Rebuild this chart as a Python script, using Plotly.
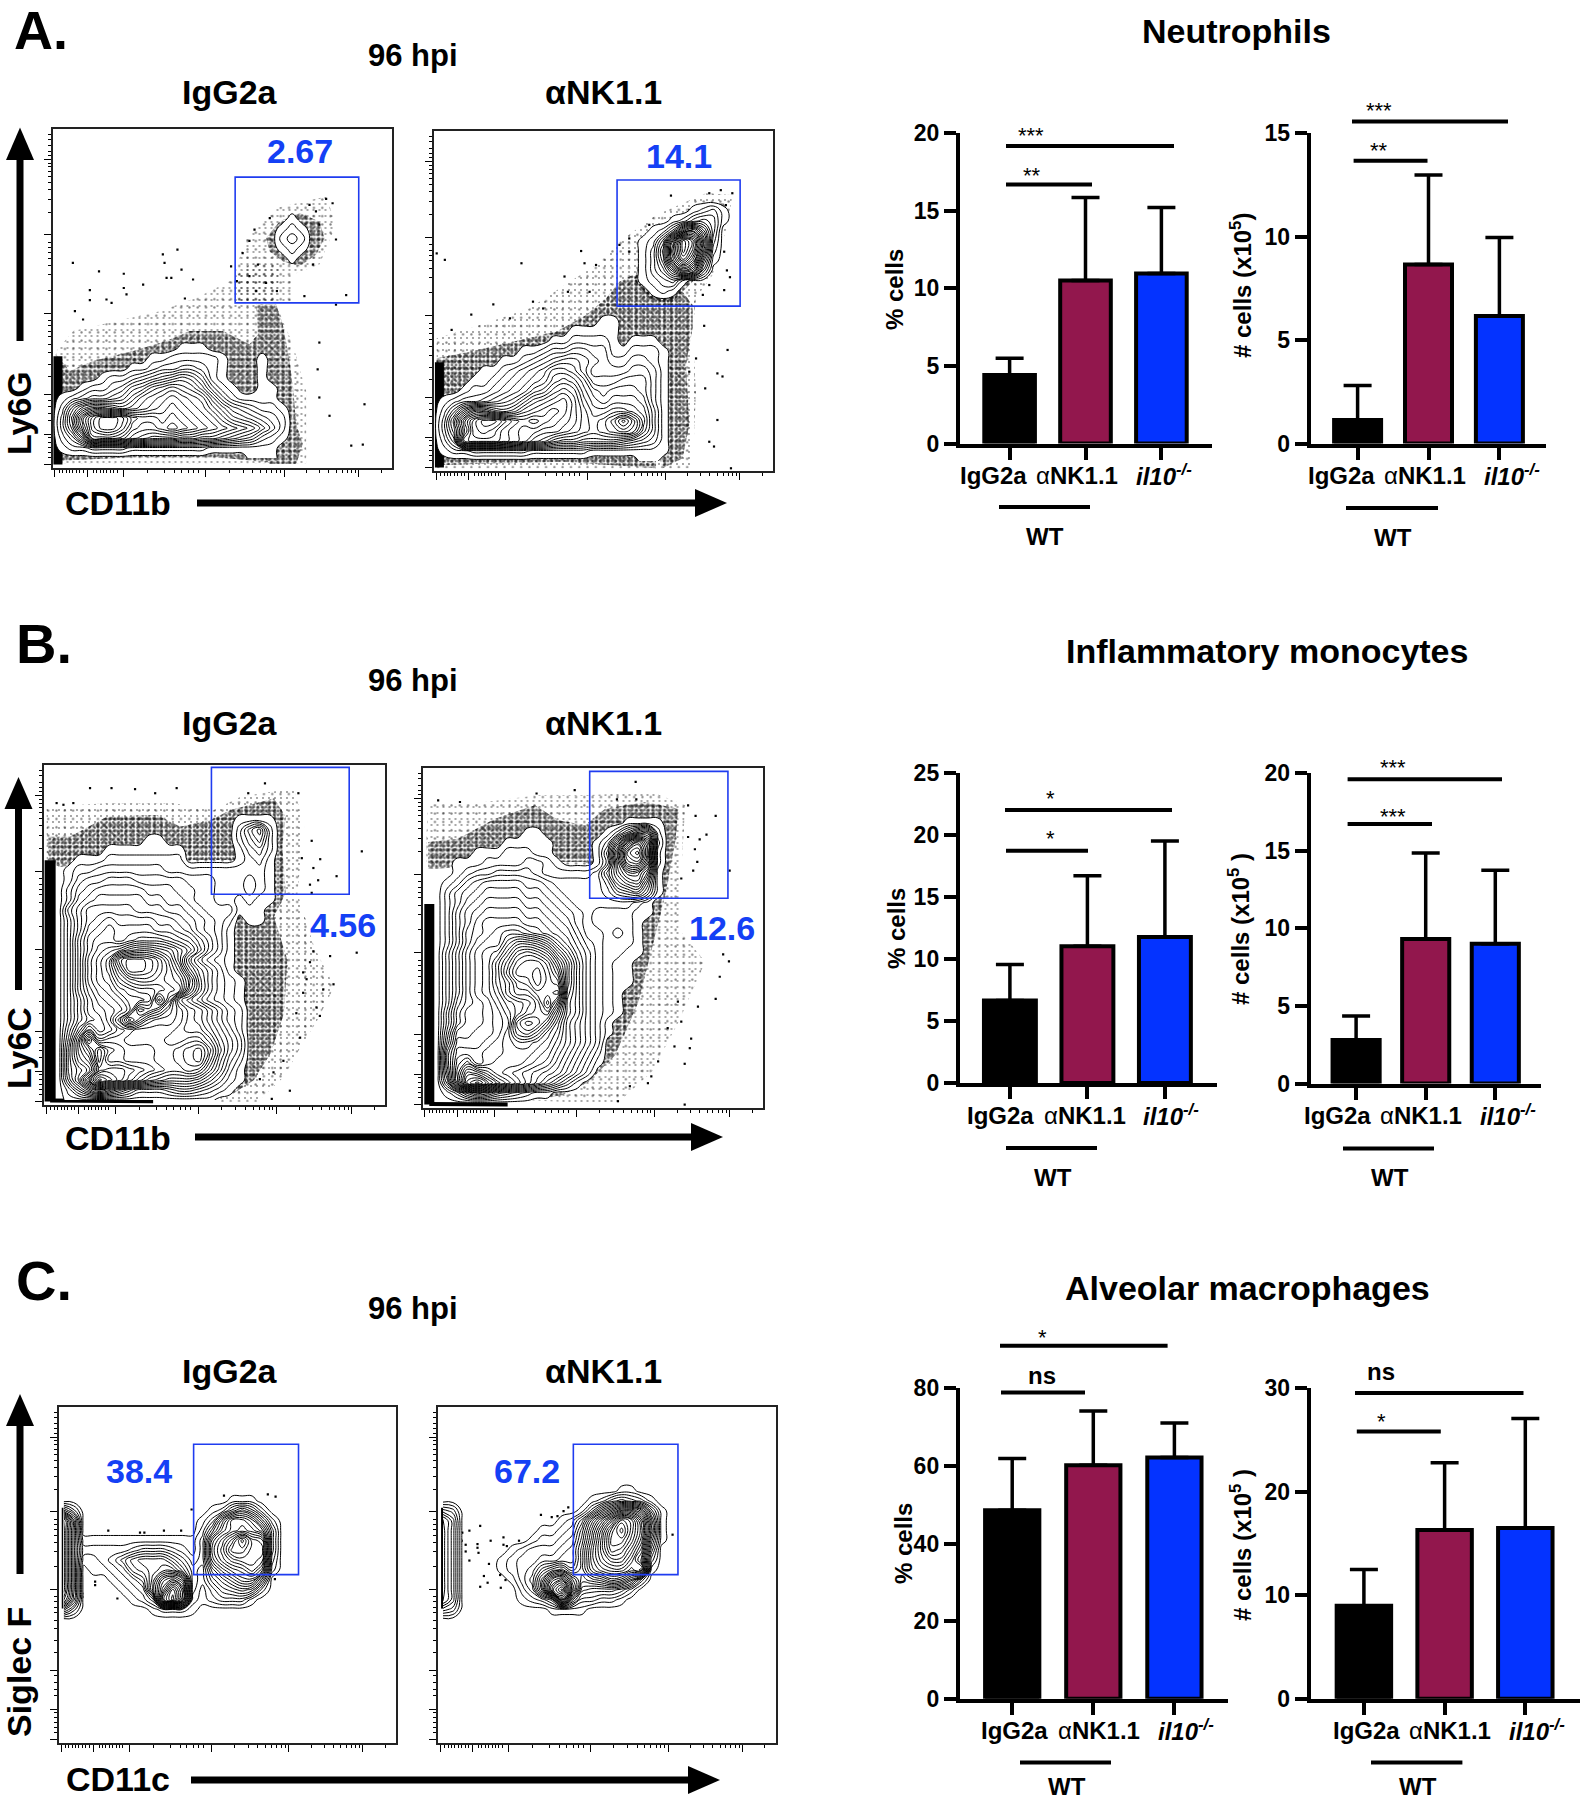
import plotly.graph_objects as go

W, H = 1580, 1800
FONT = "Liberation Sans"
BLUE_TXT = "#1440f5"
GATE_COL = "#1f3cf0"
BAR_COLORS = ["#000000", "#92174d", "#0433ff"]
CATEGORIES = ["IgG2a", "αNK1.1", "il10-/-"]
CAT_TEXT = ["<b>IgG2a</b>", "α<b>NK1.1</b>", "<b><i>il10<sup>-/-</sup></i></b>"]

# ---------- bar chart values (mean, upper whisker) ----------
A1_MEAN = [4.42, 10.5, 10.96];  A1_UP = [5.5, 15.85, 15.2]
A2_MEAN = [1.14, 8.65, 6.16];   A2_UP = [2.8, 12.97, 9.95]
B1_MEAN = [6.64, 11.02, 11.77]; B1_UP = [9.54, 16.7, 19.5]
B2_MEAN = [2.81, 9.3, 9.0];     B2_UP = [4.35, 14.85, 13.73]
C1_MEAN = [48.6, 60.2, 62.2];   C1_UP = [61.9, 74.2, 71.1]
C2_MEAN = [8.99, 16.3, 16.5];   C2_UP = [12.5, 22.8, 27.1]

# ---------- flow plot axis ticks (percent of frame) ----------
FLOW_Y_MAJOR = [9.1, 31.2, 54.3, 78.4, 90, 99]
FLOW_Y_MINOR = [1.5, 3, 5, 6.5, 7.8, 10.1, 11.2, 12.5, 14, 15.8, 17.9, 20.7, 24.6, 33.5, 35, 36.5, 38.2, 40.3, 43, 47.5,
                56.5, 58, 59.6, 61.3, 63.5, 66, 69.5, 73, 80, 82, 84, 86, 91, 92.5, 94, 95.5, 97]
FLOW_X_MAJOR = [0.7, 10.2, 21, 45.2, 68.2, 90.2]
FLOW_X_MINOR = [2, 3, 4, 5, 6, 7, 8, 9, 12, 13, 14, 15, 16, 17, 18, 19, 28, 33, 36, 38, 40, 41.5, 43,
                52.1, 56.2, 59, 61.3, 63.1, 64.6, 66, 67.1, 74.8, 78.7, 81.4, 83.6, 85.3, 86.8, 88.1, 89.2, 96.8]

# ---------- contour density: (row, first column, base-36 levels) on a 34x34 grid ----------
A1_GRID = [(9,24,"1"),(10,23,"121"),(11,23,"232"),(12,23,"121"),(13,24,"1"),
 (22,13,"111"),(23,10,"11222221"),(23,21,"1"),(24,8,"1123344321"),(24,21,"1"),
 (25,5,"1223456787521"),(25,21,"1"),(26,3,"12234679aba97421"),(26,21,"11"),
 (27,1,"12344568abcdcba7421111"),(28,1,"269bba9abcdedcb97543221"),(29,1,"38eikkjgffefedcb9765432"),
 (30,1,"37dikkifeefgfedcba98642"),(31,1,"248gggfdcbbbaa998765321"),(32,1,"1223333222222221111111"),(33,20,"111")]
A2_GRID = [(8,26,"1231"),(9,24,"124541"),(10,22,"125be94"),(11,21,"126fnkc3"),(12,21,"138hnjb2"),
 (13,21,"137fkg71"),(14,21,"1359db4"),(15,21,"12341"),(16,22,"121"),
 (19,17,"11"),(20,14,"11111"),(21,12,"1122221"),(21,20,"111"),(22,9,"112334433112221"),
 (23,7,"11234566543223321"),(24,5,"1123456887533334431"),(25,4,"112345679a9744455531"),
 (26,3,"122345689bcb865666531"),(27,1,"123345679bcdec976777631"),(28,1,"259cca9acdefeca88998741"),
 (29,1,"38eikkigfgfedca9acfc841"),(30,1,"37dijigfeeddcba9abcb741"),(31,1,"25ghhhgfecb988777765431"),
 (32,1,"12233333322222211111111"),(33,21,"11")]
B1_GRID = [(5,19,"1111"),(6,19,"2572"),(7,10,"11"),(7,19,"2462"),(8,6,"11111111"),(8,19,"1342"),
 (9,3,"11122222222"),(9,19,"1231"),(10,2,"122333333322222222221"),(11,2,"134455544444333222321"),
 (12,2,"245666665554433222321"),(13,2,"256777776655433221211"),(14,2,"46888887776654333111"),
 (15,2,"3689a999988765432"),(15,20,"11"),(16,2,"369abaaaa99875431"),(17,2,"37abbabcccba97531"),
 (18,2,"37acdeghhgfdb8531"),(19,2,"37bdflnnmkhd85321"),(20,2,"37bdfjnnmkifa7531"),(21,2,"37bdehjkkjihd85321"),
 (22,2,"37acdfghhijic85321"),(23,2,"369bcdffgmha864321"),(24,2,"369abcekjheca97532"),(25,2,"3689bfkheddca97532"),
 (26,2,"48c9acdccccbaa8642"),(27,2,"5bicddccccbbcca753"),(28,2,"6beifedddccdefc853"),(29,2,"6acieedddccdefb742"),
 (30,2,"68aghhgfedccdc9631"),(31,2,"59fljhfdba99986421"),(32,2,"258b9753334554321"),(33,2,"111111111111111")]
B2_GRID = [(5,20,"1111"),(6,10,"11"),(6,18,"1369a2"),(7,8,"11111"),(7,17,"139gkf3"),(8,5,"11122211"),(8,17,"15dlng2"),
 (9,3,"11122223321"),(9,17,"14cjke2"),(10,3,"1233444432222237beea1"),(11,2,"124566665543333359bc71"),
 (12,2,"2456777766543333467851"),(13,2,"246788887765433333321"),(14,2,"257899998876543222211"),
 (15,2,"2579aaaa998764322221"),(16,2,"2589abccba9875332321"),(17,2,"258abbeggfda86432221"),
 (18,2,"369bcdgjkjhda7532211"),(19,2,"369bcfilmmkgc853211"),(20,2,"369bcfjmmnlic853211"),(21,2,"369bcfhklnlkc853211"),
 (22,2,"369bcehjjllmb85321"),(23,2,"379abdfghjnia85321"),(24,2,"48aabcegijkfa85321"),(25,2,"48aabcdjlkhd97531"),
 (26,2,"5aabbceijhec97531"),(27,2,"6bbbcdeffedb9753"),(28,2,"8cccddeeedca8642"),(29,2,"8dfcdeeedcb97531"),
 (30,2,"7ejigedcba98642"),(31,2,"5dlnkhfdb97531"),(32,2,"13687543211")]
C1_GRID = [(9,17,"111"),(10,0,"63"),(10,15,"125752"),(11,0,"f8"),(11,14,"138cca62"),(12,0,"f8"),(12,14,"26acdca4"),
 (13,0,"f8"),(13,2,"111111111111"),(13,14,"3adgkgf4"),(14,0,"f8"),(14,2,"222223444321"),(14,14,"3beiigg4"),
 (15,0,"f8"),(15,2,"112357888642"),(15,14,"3adfggf3"),(16,0,"f8"),(16,2,"011236789963"),(16,14,"27acdfc2"),
 (17,0,"f8"),(17,5,"12359egd3"),(17,14,"2579bb6"),(18,0,"f8"),(18,6,"123agmh3"),(18,14,"1356762"),
 (19,0,"d7"),(19,7,"124jng2"),(19,14,"123331"),(20,0,"63"),(20,9,"12221")]
C2_GRID = [(8,18,"11"),(9,15,"1245431"),(10,0,"43"),(10,14,"148beeb51"),(11,0,"85"),(11,12,"125aeinlg81"),
 (12,0,"85"),(12,10,"11237chmplh91"),(13,0,"85"),(13,9,"122348dinnkg71"),(14,0,"85"),(14,7,"12333459eimlie5"),
 (15,0,"85"),(15,6,"123344559ehjjgc3"),(16,0,"85"),(16,6,"123479a79dfggeg1"),(17,0,"85"),(17,7,"135agic89acb83"),
 (18,0,"85"),(18,8,"24ajne655542"),(19,0,"85"),(19,8,"1235h733221"),(20,0,"43"),(20,11,"1111")]

# ---------- event clouds as outlines traced on the picture, in units of a third of a page pixel from the crop corner ----------
A1_DENSE = [[(18,690),(18,820),(300,900),(640,1000),(660,1020),(740,1020),(760,960),(740,900),(730,780),(715,680),(700,600),(680,540),(620,540),(625,630),(600,660),(520,620),(420,620),(350,650),(250,680),(130,710),(60,740)],
            [(650,340),(690,290),(750,265),(810,290),(825,340),(800,390),(750,425),(700,410),(660,380)],
            [(30,960),(200,975),(400,960),(640,990),(660,1015),(500,1000),(250,1000),(30,1010),(18,1000)]]
A1_SPARSE = [[(20,680),(70,620),(200,590),(330,560),(440,520),(540,470),(600,420),(690,420),(680,540),(730,660),(770,800),(770,1020),(20,1020)],
             [(590,340),(680,250),(830,215),(860,300),(810,420),(730,450),(730,535),(560,535),(560,430)]]
A1_SOLID = [(9,[(1.6,67),(1.6,99)])]
A2_DENSE = [[(20,700),(120,680),(250,650),(380,620),(470,570),(530,520),(570,470),(610,450),(650,480),(700,520),(745,480),(790,540),(790,610),(770,720),(780,900),(760,1000),(700,1030),(680,960),(300,900),(20,900)],
            [(615,465),(650,340),(720,285),(830,235),(885,235),(890,290),(830,430),(760,500),(720,540),(660,520)],
            [(30,965),(200,975),(470,960),(680,1000),(680,1030),(400,1010),(30,1020)]]
A2_SPARSE = [[(20,640),(120,610),(300,550),(420,470),(500,420),(570,350),(680,270),(830,205),(910,210),(895,300),(850,450),(800,520),(790,620),(800,800),(790,1030),(20,1030)]]
A2_SOLID = [(9,[(1.6,68),(1.6,99)])]
B1_DENSE = [[(25,310),(25,230),(90,230),(200,170),(350,165),(420,200),(510,180),(570,150),(700,115),(735,170),(725,260),(735,400),(700,470),(740,600),(730,760),(690,880),(640,960),(580,1000),(540,1010),(530,990),(600,850),(560,500),(700,300),(300,300),(60,320)]]
B1_SPARSE = [[(20,140),(200,130),(400,130),(520,150),(600,110),(760,85),(790,200),(770,400),(820,560),(880,680),(830,780),(780,860),(730,950),(650,1025),(540,1025),(540,990),(300,300),(20,300)]]
B1_SOLID = [(11,[(1.8,28),(1.8,99)]),(4,[(1.8,98.7),(32,98.9)])]
B2_DENSE = [[(30,320),(30,240),(120,230),(230,170),(350,130),(420,175),(500,190),(560,140),(680,120),(780,140),(770,240),(740,400),(690,600),(660,720),(590,880),(510,960),(430,1000),(330,1015),(320,990),(500,900),(600,700),(680,400),(500,300),(300,300),(60,320)]]
B2_SPARSE = [[(25,220),(30,120),(200,120),(360,100),(500,100),(700,90),(800,130),(790,300),(780,500),(860,600),(780,780),(700,930),(600,1020),(440,1020),(330,1015),(500,800),(300,300),(25,300)]]
B2_SOLID = [(10,[(2,40),(2,99)]),(4,[(2,98.8),(25,99)])]
C1_SOLID = [(2,[(1.2,30),(1.2,60)])]
C2_SOLID = [(2,[(1.2,30),(1.2,60)])]

# ---------- isolated events (percent of frame) ----------
A1_DOTS = [(6,39.5),(13.7,42),(11,47.5),(11,50.5),(21,42.7),(21,46.9),(32.5,37),(36.8,35.6),(33,39.5),(38,41.5),(35,43.9),(33.6,43.9),
 (41.4,44.4),(26.7,45.9),(21.8,48.8),(17.4,51.3),(15.9,50.3),(6.6,53.7),(9,56.2),(39,50),(78.6,63),(78.1,70.9),(91.9,81.2),(88,93.4),
 (91.4,93.1),(78.6,79.2),(81.6,84.6),(83.5,51.8),(86.5,49),(83.5,32.6),(80.6,20.6),(82.5,21.9),(75.7,22.4),(64,26.3),(59.5,29.7),(58,33),
 (56,36.6),(52.6,40.5),(58,43.4),(60.5,40),(54.3,44.9),(60,47.8),(62.9,45.4),(66.1,47.8),(74.2,49.3),(76.7,40),(78.6,28.2),(77.6,24.3)]
A2_DOTS = [(69.9,19),(85.6,35.5),(86.4,41),(87.3,43),(85.6,46.8),(79.7,57.3),(86.6,64.4),(83.6,71.3),(85.1,72.2),(83.6,85),(81.2,91.4),
 (82.6,92.8),(80,75.7),(75.3,70.8),(77.3,66.9),(3.2,37.9),(0.8,36),(25.8,38.9),(17.5,51),(11,54),(5.2,58.5),(22.4,55.1),(29.2,50.2),
 (32.2,52.2),(38.5,42.8),(39.5,47.3),(43.4,35.3),(44.4,38.9),(47.8,39.4),(45.9,47.3),(57.6,31.6),(84.6,17.4),(88,18.3),(86.1,21.8),
 (81.2,18.3),(75.3,23.2),(63.5,27.6),(57.6,35.5),(54.7,33.5),(81.2,45.3),(79.3,48.2),(87.6,99.2)]
B1_DOTS = [(13.5,6.8),(26.7,7.1),(32.6,8.3),(38.9,6.8),(19.8,6.8),(64.8,5.4),(59.9,8.3),(74.6,8.3),(78.5,22.3),(93.2,25.4),(75.6,27.4),
 (81,27.7),(79,30.3),(85.8,32.7),(80.4,33.9),(78,35.2),(78.5,37.6),(91.7,55.2),(83.9,56.2),(79,54.8),(84.9,64.5),(81.9,66),(79.9,71.3),
 (80.9,73.8),(76,61),(75.1,80.2),(70.2,87),(72.1,95.8),(66.8,98.2),(67.3,90.4),(63.3,92.4),(76,67),(77,63),(74,73),(78,58),(3.7,11.2),
 (5.7,11.7),(8.6,11.2)]
B2_DOTS = [(62.6,4.1),(57.1,9.2),(62.8,9.2),(78,11),(80.2,14.1),(86.1,14.1),(83.4,19.6),(81.4,21),(78,20.3),(80,23.9),(80.7,27.6),(79.5,30.2),
 (90.2,30.2),(76,32.5),(88.3,54.8),(90,56.9),(87.3,61.4),(86.1,67.9),(80.9,70.2),(75,68.7),(78.9,79.6),(78.5,82.4),(77,87),(74,81.9),
 (67.2,90.7),(66.2,92.7),(60.9,93.6),(57.4,98),(44.7,6.5),(33.5,7.5),(11,10),(4.6,9.5),(77,99),(69.2,86.3),(72,76.5),(76,74.6)]
C1_DOTS = [(49,26.4),(62,26),(64.3,26.7),(39.4,30.5),(14.7,36.8),(24.1,37.4),(25.4,37.4),(31.2,36.8),(36.3,36.8),(10.8,52),(10.8,53),(7,55.5),
 (7,56.5),(17.4,57),(64.1,51.2)]
C2_DOTS = [(7.2,37.4),(9.3,36.8),(12.5,35.4),(7,39.8),(8.2,41),(11.7,40.8),(11.7,41.9),(8.2,43),(12,43.4),(9.3,45.7),(15.6,39.8),(19.4,38.8),
 (19.4,41),(20.4,41.4),(24,39.8),(15.1,46.7),(13.6,50.3),(18.4,50),(20,51.5),(14.7,52.3),(12.5,53.5),(18.6,53.8),(30.5,32.1),(33.7,32.8),
 (35.4,32.5),(37.2,31),(38.6,29.9),(69.5,38)]

FLOWS = [
 dict(box=(52.5,392,129,468), org=(8,12), off=0, grid=A1_GRID, gate=(53.8,90.2,14.2,51.3), dots=A1_DOTS, dense=A1_DENSE, solid=A1_SOLID, sparse=A1_SPARSE, label="2.67", lab=(300,151)),
 dict(box=(434,773,131,471), org=(12,18), off=0, grid=A2_GRID, gate=(54,90.3,14.4,51.5), dots=A2_DOTS, dense=A2_DENSE, solid=A2_SOLID, sparse=A2_SPARSE, label="14.1", lab=(679,156)),
 dict(box=(44,385,765,1105), org=(12,15), off=.5, grid=B1_GRID, gate=(49.1,89.5,0.7,38), dots=B1_DOTS, dense=B1_DENSE, solid=B1_SOLID, sparse=B1_SPARSE, label="4.56", lab=(343,925)),
 dict(box=(422.5,763,768,1108), org=(13,18), off=.5, grid=B2_GRID, gate=(49.1,89.7,1,38.3), dots=B2_DOTS, dense=B2_DENSE, solid=B2_SOLID, sparse=B2_SPARSE, label="12.6", lab=(722,928)),
 dict(box=(58.7,396,1407,1743), org=(11,21), off=.5, grid=C1_GRID, gate=(40,71.1,11.1,49.9), dots=C1_DOTS, dense=[], solid=C1_SOLID, sparse=[], label="38.4", lab=(139,1471)),
 dict(box=(438,775.5,1407,1743), org=(9,21), off=.5, grid=C2_GRID, gate=(40.1,71.1,11.1,49.9), dots=C2_DOTS, dense=[], solid=C2_SOLID, sparse=[], label="67.2", lab=(527,1471)),
]

BARS = [
 dict(x0=958,x1=1212,ytop=133,y0=443.6,ticks=(1008,1084.5,1161),bw=.667,ymax=20,tv=[0,5,10,15,20],mean=A1_MEAN,up=A1_UP),
 dict(x0=1308.6,x1=1546,ytop=133,y0=443.6,ticks=(1356,1427.5,1499),bw=.663,ymax=15,tv=[0,5,10,15],mean=A2_MEAN,up=A2_UP),
 dict(x0=957.8,x1=1217,ytop=772.9,y0=1082.9,ticks=(1008.3,1086.4,1164.9),bw=.67,ymax=25,tv=[0,5,10,15,20,25],mean=B1_MEAN,up=B1_UP),
 dict(x0=1308.6,x1=1541,ytop=772.9,y0=1083.6,ticks=(1354.5,1424.7,1494.5),bw=.677,ymax=20,tv=[0,5,10,15,20],mean=B2_MEAN,up=B2_UP),
 dict(x0=957.8,x1=1228,ytop=1388.4,y0=1698.7,ticks=(1010.6,1092.3,1173),bw=.669,ymax=80,tv=[0,20,40,60,80],mean=C1_MEAN,up=C1_UP),
 dict(x0=1308.6,x1=1580,ytop=1388.4,y0=1698.7,ticks=(1362.3,1443.6,1524.8),bw=.675,ymax=30,tv=[0,10,20,30],mean=C2_MEAN,up=C2_UP),
]

TEXTS = [("<b>A.</b>",41,30,54),("<b>B.</b>",44,643,56),("<b>C.</b>",44,1280,56),
 ("<b>96 hpi</b>",413,55,31),("<b>96 hpi</b>",413,680,31),("<b>96 hpi</b>",413,1308,31),
 ("<b>IgG2a</b>",230,92,34),("<b>αNK1.1</b>",603,92,34),("<b>IgG2a</b>",230,723,34),("<b>αNK1.1</b>",603,723,34),
 ("<b>IgG2a</b>",230,1371,34),("<b>αNK1.1</b>",603,1371,34),
 ("<b>CD11b</b>",118,503,34),("<b>CD11b</b>",118,1138,34),("<b>CD11c</b>",118,1779,34),
 ("<b>Neutrophils</b>",1236,31,34),("<b>Inflammatory monocytes</b>",1267,651,34),("<b>Alveolar macrophages</b>",1247,1288,34),
 ("<b>WT</b>",1045,536,24),("<b>WT</b>",1393,537,24),("<b>WT</b>",1053,1177,24),("<b>WT</b>",1390,1177,24),("<b>WT</b>",1067,1786,24),("<b>WT</b>",1418,1786,24),
 ("***",1031,135,22),("**",1032,175,22),("***",1379,110,22),("**",1379,150,22),
 ("*",1050,798,22),("*",1050,838,22),("***",1393,767,22),("***",1393,816,22),
 ("*",1042,1337,22),("<b>ns</b>",1042,1375,24),("<b>ns</b>",1381,1371,24),("*",1381,1421,22)]
VTEXTS = [("<b>Ly6G</b>",19,413,34),("<b>Ly6C</b>",19,1048,34),("<b>Siglec F</b>",19,1672,34),
 ("<b>% cells</b>",894,290,24),("<b>% cells</b>",896,929,24),("<b>% cells</b>",903,1544,24),
 ("<b># cells (x10<sup>5</sup>)</b>",1241,286,24),("<b># cells (x10<sup>5</sup> )</b>",1239,929,24),("<b># cells (x10<sup>5</sup> )</b>",1241,1545,24)]
CAT_LABEL_X = [(993,1077,1164,475),(1341,1425,1512,475),(1000,1085,1171,1115),(1337.5,1421,1508,1115),(1014.7,1098.8,1186,1730),(1366,1450,1537,1730)]
BRACKETS = [(1006,1174,146),(1006,1092,184.6),(999,1090,507),(1352,1508,121.4),(1353.6,1427.5,160.7),(1346,1438,508),
 (1005,1172,810),(1006,1088,850.7),(1006,1097,1148),(1347.6,1502,779.3),(1347.6,1432,824),(1343,1434,1148.6),
 (1000,1167.6,1345.7),(1001,1085,1392.6),(1020,1111,1762.4),(1355,1523.5,1393),(1356.8,1440.8,1431.5),(1371,1462.4,1762.4)]
UP_ARROWS = [(341,160,127.5,20),(990,809,777,18.5),(1574,1426,1394,20)]
RIGHT_ARROWS = [(197,695,727,503),(195,691,723,1137),(191,688,720,1780)]

px = lambda x: x / W
py = lambda y: 1 - y / H

fig = go.Figure()
layout = {}
annotations, shapes = [], []
PAGE_X, PAGE_Y = "x13", "y13"


def txt(s, x, y, size, color="black", angle=0):
    annotations.append(dict(text=s, x=x, y=y, xref=PAGE_X, yref=PAGE_Y, showarrow=False, xanchor="center", yanchor="middle",
                            textangle=angle, font=dict(family=FONT, size=size, color=color)))


def cloud(path, org, xa, ya, patterns):
    xs = [(p[0] - org[0]) / 10.2 for p in path]
    ys = [(p[1] - org[1]) / 10.2 for p in path]
    for size, solidity in patterns:
        fig.add_trace(go.Scatter(x=xs, y=ys, mode="none", fill="toself", fillcolor="rgba(0,0,0,0)", xaxis=xa, yaxis=ya, hoverinfo="skip",
                                 fillpattern=dict(shape=".", size=size, solidity=solidity, fgcolor="black", bgcolor="rgba(0,0,0,0)")))


N = 34
axis_no = 0
for idx, f in enumerate(FLOWS):
    axis_no += 1
    xa, ya = f"x{axis_no}", f"y{axis_no}"
    L, R, T, B = f["box"]
    common = dict(showgrid=False, zeroline=False, showline=True, linecolor="#222", linewidth=1.5, mirror=True, ticks="outside",
                  ticklen=7, tickwidth=1.2, tickcolor="black", showticklabels=False, tickmode="array", automargin=False)
    layout[f"xaxis{axis_no}"] = dict(common, domain=[px(L), px(R)], range=[0, 100], anchor=ya, tickvals=FLOW_X_MAJOR,
                                     minor=dict(tickmode="array", tickvals=FLOW_X_MINOR, ticks="outside", ticklen=3, tickwidth=0.8, tickcolor="black"))
    layout[f"yaxis{axis_no}"] = dict(common, domain=[py(B), py(T)], range=[100, 0], anchor=xa, tickvals=FLOW_Y_MAJOR,
                                     minor=dict(tickmode="array", tickvals=FLOW_Y_MINOR, ticks="outside", ticklen=3, tickwidth=0.8, tickcolor="black"))
    for path in f["sparse"]:
        cloud(path, f["org"], xa, ya, [(6, 0.07), (8.3, 0.06)])
    for path in f["dense"]:
        cloud(path, f["org"], xa, ya, [(4, 0.42), (5.7, 0.3), (7.1, 0.2)])
    for width, path in f["solid"]:
        fig.add_trace(go.Scatter(x=[p[0] for p in path], y=[p[1] for p in path], mode="lines", xaxis=xa, yaxis=ya, hoverinfo="skip",
                                 line=dict(color="black", width=width)))
    fig.add_trace(go.Scatter(x=[d[0] for d in f["dots"]], y=[d[1] for d in f["dots"]], mode="markers", xaxis=xa, yaxis=ya, hoverinfo="skip",
                             marker=dict(color="black", size=2.2, symbol="square")))
    # contours sit on their own later subplot so that their white interior covers the clouds
    cn = 14 + idx
    layout[f"xaxis{cn}"] = dict(domain=[px(L), px(R)], range=[0, 100], visible=False, anchor=f"y{cn}", automargin=False)
    layout[f"yaxis{cn}"] = dict(domain=[py(B), py(T)], range=[100, 0], visible=False, anchor=f"x{cn}", automargin=False)
    z = [[0] * N for _ in range(N)]
    for row, col, levels in f["grid"]:
        for i, ch in enumerate(levels):
            z[row][col + i] = int(ch, 36)
    centres = [(i + f["off"]) * 100 / N for i in range(N)]
    fig.add_trace(go.Contour(x=centres, y=centres, z=z, xaxis=f"x{cn}", yaxis=f"y{cn}", zmin=0, zmax=26, zauto=False, showscale=False, hoverinfo="skip",
                             autocontour=False, contours=dict(start=0.5, end=26.5, size=1, coloring="fill"),
                             colorscale=[[0, "rgba(255,255,255,0)"], [0.01, "white"], [1, "white"]],
                             line=dict(color="black", width=1, smoothing=1.3)))
    gx0, gx1, gy0, gy1 = f["gate"]
    shapes.append(dict(type="rect", xref=xa, yref=ya, x0=gx0, x1=gx1, y0=gy0, y1=gy1, line=dict(color=GATE_COL, width=1.6)))
    txt(f"<b>{f['label']}</b>", f["lab"][0], f["lab"][1], 34, BLUE_TXT)

positions = list(range(len(CATEGORIES)))
for b, lab in zip(BARS, CAT_LABEL_X):
    axis_no += 1
    xa, ya = f"x{axis_no}", f"y{axis_no}"
    spacing = b["ticks"][1] - b["ticks"][0]
    lo = -(b["ticks"][0] - b["x0"]) / spacing
    hi = (b["x1"] - b["ticks"][0]) / spacing
    errs = [u - m for u, m in zip(b["up"], b["mean"])]
    fig.add_trace(go.Bar(x=positions, y=b["mean"], hovertext=CATEGORIES, width=b["bw"], xaxis=xa, yaxis=ya, hoverinfo="skip",
                         marker=dict(color=BAR_COLORS, line=dict(color="black", width=4)),
                         error_y=dict(type="data", symmetric=False, array=errs, arrayminus=[0, 0, 0], thickness=3.5, width=14, color="black")))
    layout[f"xaxis{axis_no}"] = dict(domain=[px(b["x0"] + 2), px(b["x1"])], range=[lo, hi], anchor=ya, showgrid=False, zeroline=False, showline=True,
                                     linecolor="black", linewidth=4, ticks="outside", ticklen=12, tickwidth=4, tickcolor="black",
                                     tickmode="array", tickvals=positions, showticklabels=False, automargin=False)
    layout[f"yaxis{axis_no}"] = dict(domain=[py(b["y0"]), py(b["ytop"])], range=[0, b["ymax"]], anchor=xa, showgrid=False, zeroline=False,
                                     showline=True, linecolor="black", linewidth=4, ticks="outside", ticklen=12, tickwidth=4, tickcolor="black",
                                     tickmode="array", tickvals=b["tv"], tickfont=dict(family=FONT, size=23, color="black", weight="bold"), automargin=False)
    for i in range(3):
        txt(CAT_TEXT[i], lab[i], lab[3], 24)

# hidden page-wide axes that carry the free text, measured in page pixels
fig.add_trace(go.Scatter(x=[0], y=[0], mode="none", xaxis=PAGE_X, yaxis=PAGE_Y, hoverinfo="skip"))
layout["xaxis13"] = dict(domain=[0, 1], range=[0, W], visible=False, anchor=PAGE_Y, fixedrange=True, automargin=False)
layout["yaxis13"] = dict(domain=[0, 1], range=[H, 0], visible=False, anchor=PAGE_X, fixedrange=True, automargin=False)

for s, x, y, size in TEXTS:
    txt(s, x, y, size)
for s, x, y, size in VTEXTS:
    txt(s, x, y, size, angle=-90)

for x0, x1, y in BRACKETS:
    shapes.append(dict(type="line", xref="paper", yref="paper", x0=px(x0), x1=px(x1), y0=py(y), y1=py(y), line=dict(color="black", width=4)))
for tail, base, tip, x in UP_ARROWS:
    shapes.append(dict(type="line", xref="paper", yref="paper", x0=px(x), x1=px(x), y0=py(tail), y1=py(base), line=dict(color="black", width=7)))
    shapes.append(dict(type="path", xref="paper", yref="paper", fillcolor="black", line=dict(width=0),
                       path=f"M{px(x-14)},{py(base)} L{px(x+14)},{py(base)} L{px(x)},{py(tip)} Z"))
for tail, base, tip, y in RIGHT_ARROWS:
    shapes.append(dict(type="line", xref="paper", yref="paper", x0=px(tail), x1=px(base), y0=py(y), y1=py(y), line=dict(color="black", width=7)))
    shapes.append(dict(type="path", xref="paper", yref="paper", fillcolor="black", line=dict(width=0),
                       path=f"M{px(base)},{py(y-14)} L{px(base)},{py(y+14)} L{px(tip)},{py(y)} Z"))

fig.update_layout(width=W, height=H, margin=dict(l=0, r=0, t=0, b=0, autoexpand=False), showlegend=False, paper_bgcolor="white", plot_bgcolor="rgba(0,0,0,0)",
                  font=dict(family=FONT), annotations=annotations, shapes=shapes, **layout)
fig.write_html("out.html", config=dict(displayModeBar=False), post_script="document.body.style.margin='0';")
